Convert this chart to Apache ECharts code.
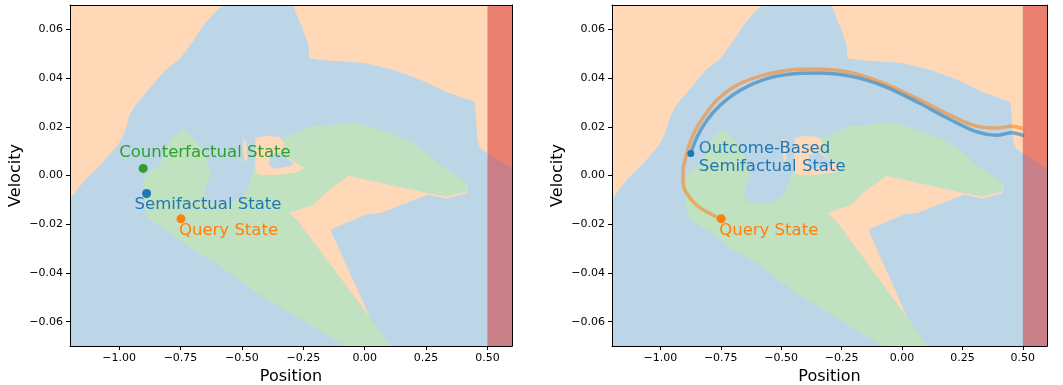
<!DOCTYPE html>
<html>
<head>
<meta charset="utf-8">
<script src="https://cdn.jsdelivr.net/npm/echarts@6/dist/echarts.min.js"></script>
<style>html,body{margin:0;padding:0;background:#fff}#c{width:1063px;height:385px}</style>
</head>
<body>
<div id="c"></div>
<script>
// ---- axes ----
const X_RANGE = [-1.2, 0.6];
const Y_RANGE = [-0.07, 0.07];
const xTicks = [-1.0, -0.75, -0.5, -0.25, 0.0, 0.25, 0.5];
const yTicks = [-0.06, -0.04, -0.02, 0.0, 0.02, 0.04, 0.06];
const xLabel = 'Position';
const yLabel = 'Velocity';

// ---- decision regions (data coords: [position, velocity]) ----
const blueBase = [[-1.2, -0.07], [0.6, -0.07], [0.6, 0.07], [-1.2, 0.07]];
const orangeTopLeft = [[-1.2, 0.07], [-1.2, -0.0097], [-1.14, -0.0018], [-1.072, 0.0047], [-1.004, 0.0126],
  [-0.977, 0.018], [-0.96, 0.0242], [-0.933, 0.029], [-0.875, 0.0358], [-0.812, 0.0433], [-0.752, 0.0478],
  [-0.70, 0.055], [-0.65, 0.0625], [-0.61, 0.067], [-0.575, 0.07]];
const orangeTopRight = [[-0.293, 0.07], [-0.26, 0.062], [-0.24, 0.057], [-0.23, 0.0543], [-0.225, 0.0481],
  [-0.18, 0.0474], [0.0, 0.0462], [0.118, 0.0433], [0.23, 0.0392], [0.33, 0.0344], [0.447, 0.0303],
  [0.452, 0.027], [0.458, 0.016], [0.465, 0.012], [0.48, 0.0105], [0.5, 0.0091], [0.6, 0.003], [0.6, 0.07]];
const greenMain = [[-0.735, 0.019], [-0.70, 0.0155], [-0.664, 0.0112], [-0.64, 0.005], [-0.626, 0.0005],
  [-0.64, -0.0031], [-0.652, -0.0065], [-0.65, -0.0097], [-0.616, -0.0116], [-0.54, -0.011], [-0.487, -0.0079],
  [-0.474, -0.0038], [-0.453, 0.0009], [-0.44, 0.010], [-0.42, 0.015], [-0.33, 0.0153], [-0.222, 0.020],
  [-0.14, 0.0208], [-0.03, 0.0218], [0.104, 0.0174], [0.186, 0.0139], [0.24, 0.0105], [0.308, 0.0044],
  [0.377, -0.0004], [0.405, -0.0022], [0.424, -0.0045], [0.41, -0.0068], [0.336, -0.0086], [0.254, -0.0072],
  [-0.066, -0.0001], [-0.154, -0.0066], [-0.209, -0.012], [-0.31, -0.0154], [-0.276, -0.0182], [0.023, -0.0585],
  [0.105, -0.07], [-0.08, -0.07], [-0.439, -0.0482], [-0.603, -0.0359], [-0.712, -0.0298], [-0.752, -0.0264],
  [-0.82, -0.0216], [-0.875, -0.0182], [-0.891, -0.0148], [-0.897, -0.0086], [-0.902, -0.002], [-0.877, 0.0016],
  [-0.832, 0.0045], [-0.82, 0.008], [-0.80, 0.013], [-0.775, 0.0165]];
const orangeWedge = [[-0.066, -0.0001], [0.254, -0.0072], [0.336, -0.0086], [0.41, -0.0068], [0.424, -0.0045],
  [0.415, -0.0073], [0.336, -0.0094], [0.254, -0.0079], [0.064, -0.0154], [0.009, -0.0159], [-0.14, -0.0223],
  [0.023, -0.0585], [-0.276, -0.0182], [-0.31, -0.0154], [-0.209, -0.012], [-0.154, -0.0066]];
const orangeIsland = [[-0.445, 0.0155], [-0.40, 0.0162], [-0.345, 0.0158], [-0.325, 0.0128], [-0.345, 0.0105],
  [-0.30, 0.0065], [-0.245, 0.0032], [-0.28, 0.0012], [-0.35, 0.0003], [-0.42, 0.0002], [-0.445, 0.001]];
const bluePocket = [[-0.385, 0.0085], [-0.345, 0.0095], [-0.31, 0.0068], [-0.29, 0.0052], [-0.30, 0.0038],
  [-0.37, 0.0028], [-0.39, 0.0045]];
const orangeSliver = [[-0.495, 0.0155], [-0.482, 0.0135], [-0.478, 0.0065], [-0.487, 0.0055], [-0.494, 0.010]];
const goalZone = [[0.5, -0.07], [0.6, -0.07], [0.6, 0.07], [0.5, 0.07]];

// ---- states ----
const counterfactualState = [-0.902, 0.0029];
const semifactualState = [-0.888, -0.0074];
const queryState = [-0.748, -0.0178];
const outcomeSemifactualState = [-0.874, 0.009];

// ---- trajectories (right panel) ----
const queryTrajectory = [[-0.749, -0.0178], [-0.793, -0.0157], [-0.848, -0.0123], [-0.89, -0.0075],
  [-0.906, -0.0027], [-0.906, 0.0021], [-0.897, 0.0065], [-0.884, 0.0115], [-0.862, 0.0172], [-0.821, 0.024],
  [-0.766, 0.0309], [-0.683, 0.0371], [-0.573, 0.0412], [-0.462, 0.0433], [-0.366, 0.0437], [-0.228, 0.0426],
  [-0.09, 0.0384], [0.048, 0.0323], [0.186, 0.0254], [0.296, 0.0206], [0.392, 0.0195], [0.454, 0.0202],
  [0.5, 0.0193]];
const semifactualTrajectory = [[-0.874, 0.009], [-0.848, 0.0158], [-0.807, 0.0227], [-0.752, 0.0289],
  [-0.669, 0.035], [-0.559, 0.0398], [-0.435, 0.0419], [-0.352, 0.0421], [-0.214, 0.0408], [-0.076, 0.0367],
  [0.062, 0.0302], [0.199, 0.023], [0.31, 0.0179], [0.392, 0.0165], [0.454, 0.0176], [0.5, 0.0165]];

// ---- styles ----
const C = {
  blue: '#1f77b4', orange: '#ff7f0e', green: '#2ca02c',
  blueBg: '#bcd6e8', orangeBg: '#ffd9b7', greenBg: '#c0e2c0', goal: 'rgba(214,39,40,0.5)'
};
const FONT = 'DejaVu Sans';
const regions = [
  { pts: blueBase, color: C.blueBg },
  { pts: orangeTopLeft, color: C.orangeBg },
  { pts: orangeTopRight, color: C.orangeBg },
  { pts: greenMain, color: C.greenBg },
  { pts: orangeWedge, color: C.orangeBg },
  { pts: orangeIsland, color: C.orangeBg },
  { pts: bluePocket, color: C.blueBg },
  { pts: orangeSliver, color: C.orangeBg },
  { pts: goalZone, color: C.goal }
];

const fmt = v => (v < 0 ? '\u2212' : '') + Math.abs(v).toFixed(2);

function regionSeries(idx) {
  return {
    type: 'custom', xAxisIndex: idx, yAxisIndex: idx, silent: true, z: 1,
    data: regions.map(r => r.pts[0]),
    renderItem: function (params, api) {
      const r = regions[params.dataIndex];
      return {
        type: 'polygon',
        shape: { points: r.pts.map(p => api.coord(p)) },
        style: { fill: r.color, stroke: null }
      };
    }
  };
}

function mainX(gi) {
  return {
    type: 'value', gridIndex: gi, min: X_RANGE[0], max: X_RANGE[1], z: 10,
    name: xLabel, nameLocation: 'middle', nameGap: 23,
    nameTextStyle: { fontFamily: FONT, fontSize: 16, color: '#000' },
    axisLine: { show: true, onZero: false, lineStyle: { color: '#000', width: 1 } },
    axisTick: { show: true, inside: false, length: 4, lineStyle: { color: '#000', width: 1 }, customValues: xTicks },
    axisLabel: { show: true, margin: 7, fontFamily: FONT, fontSize: 11, color: '#000', customValues: xTicks, formatter: fmt },
    splitLine: { show: false }
  };
}
function mainY(gi) {
  return {
    type: 'value', gridIndex: gi, min: Y_RANGE[0], max: Y_RANGE[1], z: 10,
    name: yLabel, nameLocation: 'middle', nameGap: 46, nameRotate: 90,
    nameTextStyle: { fontFamily: FONT, fontSize: 16, color: '#000' },
    axisLine: { show: true, onZero: false, lineStyle: { color: '#000', width: 1 } },
    axisTick: { show: true, inside: false, length: 4, lineStyle: { color: '#000', width: 1 }, customValues: yTicks },
    axisLabel: { show: true, margin: 7, fontFamily: FONT, fontSize: 11, color: '#000', customValues: yTicks, formatter: fmt },
    splitLine: { show: false }
  };
}
function frameX(gi) {
  return { type: 'value', gridIndex: gi, position: 'top', min: X_RANGE[0], max: X_RANGE[1], z: 10,
    axisLine: { show: true, onZero: false, lineStyle: { color: '#000', width: 1 } },
    axisTick: { show: false }, axisLabel: { show: false }, splitLine: { show: false } };
}
function frameY(gi) {
  return { type: 'value', gridIndex: gi, position: 'right', min: Y_RANGE[0], max: Y_RANGE[1], z: 10,
    axisLine: { show: true, onZero: false, lineStyle: { color: '#000', width: 1 } },
    axisTick: { show: false }, axisLabel: { show: false }, splitLine: { show: false } };
}

function pointSeries(idx, pt, color, size, text, offset, extra) {
  return {
    type: 'scatter', xAxisIndex: idx, yAxisIndex: idx, z: 6, silent: true,
    symbol: 'circle', symbolSize: size,
    itemStyle: { color: color, opacity: 1 },
    data: [pt],
    label: Object.assign({
      show: true, formatter: text, position: 'inside', align: 'left', verticalAlign: 'middle',
      offset: offset, color: color, fontFamily: FONT, fontSize: 16.5
    }, extra || {})
  };
}

function lineSeries(idx, data, color) {
  return {
    type: 'line', xAxisIndex: idx, yAxisIndex: idx, z: 4, silent: true,
    data: data, smooth: 0.35, showSymbol: false, symbol: 'none',
    lineStyle: { color: color, width: 3.5, opacity: 0.55, cap: 'round', join: 'round' }
  };
}

const chart = echarts.init(document.getElementById('c'), null, { renderer: 'canvas' });
chart.setOption({
  animation: false,
  backgroundColor: '#fff',
  grid: [
    { left: 70, right: 551, top: 5, bottom: 39, containLabel: false, outerBoundsMode: 'none' },
    { left: 612, right: 16, top: 5, bottom: 39, containLabel: false, outerBoundsMode: 'none' }
  ],
  xAxis: [mainX(0), mainX(1), frameX(0), frameX(1)],
  yAxis: [mainY(0), mainY(1), frameY(0), frameY(1)],
  series: [
    regionSeries(0),
    regionSeries(1),
    pointSeries(0, counterfactualState, C.green, 9, 'Counterfactual State', [-24, -15.5]),
    pointSeries(0, semifactualState, C.blue, 9, 'Semifactual State', [-12, 11.5]),
    pointSeries(0, queryState, C.orange, 9, 'Query State', [-2, 11.5]),
    lineSeries(1, queryTrajectory, C.orange),
    lineSeries(1, semifactualTrajectory, C.blue),
    pointSeries(1, outcomeSemifactualState, C.blue, 7, 'Outcome-Based\nSemifactual State', [8, 4], { lineHeight: 18.5 }),
    pointSeries(1, queryState, C.orange, 9, 'Query State', [-2, 11.5])
  ]
});
</script>
</body>
</html>
